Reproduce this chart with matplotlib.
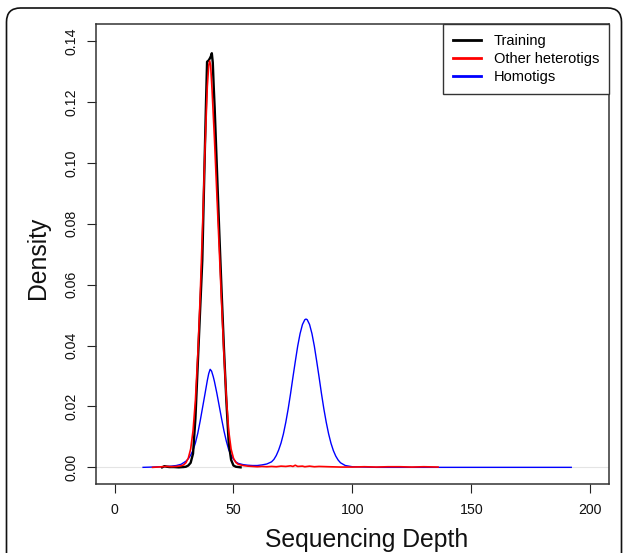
import matplotlib
matplotlib.use("Agg")
import matplotlib.pyplot as plt
from matplotlib.patches import FancyBboxPatch
from matplotlib.transforms import IdentityTransform
from matplotlib.lines import Line2D

plt.rcParams['font.family'] = ['Liberation Sans', 'DejaVu Sans']

# ---- data ----
train_x = [20, 21, 22, 23, 25, 27, 29, 30, 31, 32, 33, 34, 35, 36, 36.9, 38, 38.4, 38.9,
           39.5, 40, 40.5, 40.9, 41.3, 41.7, 42.1, 43, 44, 44.5, 45, 46, 47, 48, 49, 50,
           51, 52, 53]
train_y = [0.0000, 0.0004, 0.0002, 0.0001, 0.0001, 0.0000, 0.0001, 0.0002, 0.0006, 0.0015,
           0.0045, 0.0160, 0.0340, 0.0520, 0.0680, 0.1050, 0.1180, 0.1332,
           0.1336, 0.1342, 0.1350, 0.1360, 0.1330, 0.1250, 0.1180, 0.0990, 0.0780, 0.0680,
           0.0580, 0.0390, 0.0220, 0.0080, 0.0025, 0.0006, 0.0002, 0.0001, 0.0000]

other_x = [16, 18, 20, 22, 24, 26, 28, 29, 30, 31, 32, 33, 34, 35, 36, 37, 38, 39, 39.6,
           40, 40.4, 41, 42, 43, 44, 45, 46, 47, 48, 49, 50, 51, 52, 54, 56, 58, 60, 62,
           64, 66, 68, 70, 72, 74, 75, 76, 77, 79, 80, 82, 84, 86, 90, 95, 100, 105, 110,
           115, 120, 125, 130, 136]
other_y = [0.0000, 0.0001, 0.0002, 0.0003, 0.0002, 0.0003, 0.0005, 0.0008, 0.0015, 0.0030,
           0.0060, 0.0120, 0.0220, 0.0370, 0.0560, 0.0790, 0.1040, 0.1250, 0.1320,
           0.1335, 0.1320, 0.1240, 0.1080, 0.0900, 0.0720, 0.0540, 0.0370, 0.0230, 0.0120,
           0.0060, 0.0030, 0.0016, 0.0010, 0.0006, 0.0004, 0.0003, 0.0002, 0.0003,
           0.0002, 0.0003, 0.0002, 0.0004, 0.0003, 0.0005, 0.0003, 0.0007, 0.0003, 0.0004,
           0.0002, 0.0004, 0.0002, 0.0003, 0.0002, 0.0001, 0.0001, 0.0002, 0.0001,
           0.0002, 0.0002, 0.0001, 0.0002, 0.0001]

homo_x = [12, 16, 20, 24, 26, 28, 30, 31, 32, 33, 34, 35, 36, 37, 38, 39, 39.6, 40.2, 40.8,
          41.5, 42, 43, 44, 45, 46, 47, 48, 49, 50, 51, 52, 54, 56, 58, 60, 62, 64, 66,
          67, 68, 69, 70, 71, 72, 73, 74, 75, 76, 77, 78, 79, 80, 80.5, 81, 82, 83, 84,
          85, 86, 87, 88, 89, 90, 91, 92, 93, 94, 95, 97, 100, 105, 110, 150, 192]
homo_y = [0.0000, 0.0001, 0.0002, 0.0004, 0.0006, 0.0010, 0.0020, 0.0028, 0.0040, 0.0056,
          0.0080, 0.0112, 0.0152, 0.0196, 0.0240, 0.0285, 0.0308, 0.0322, 0.0316,
          0.0298, 0.0282, 0.0244, 0.0202, 0.0160, 0.0120, 0.0086, 0.0058, 0.0040, 0.0027,
          0.0018, 0.0013, 0.0009, 0.0007, 0.0006, 0.0006, 0.0008, 0.0011, 0.0018,
          0.0026, 0.0039, 0.0057, 0.0080, 0.0110, 0.0148, 0.0192, 0.0242, 0.0296, 0.0348,
          0.0398, 0.0439, 0.0469, 0.0485, 0.0487, 0.0485, 0.0469, 0.0439, 0.0398,
          0.0348, 0.0296, 0.0242, 0.0192, 0.0148, 0.0110, 0.0079, 0.0055, 0.0037, 0.0024,
          0.0015, 0.0006, 0.0002, 0.0001, 0.0000, 0.0000, 0.0000]

series_labels = ["Training", "Other heterotigs", "Homotigs"]
series_colors = ["#000000", "#ff0000", "#0000ff"]
x_ticks = [0, 50, 100, 150, 200]
y_ticks = [0.00, 0.02, 0.04, 0.06, 0.08, 0.10, 0.12, 0.14]
y_tick_labels = ["0.00", "0.02", "0.04", "0.06", "0.08", "0.10", "0.12", "0.14"]

# ---- figure ----
W, H = 624, 553
fig = plt.figure(figsize=(W / 100, H / 100), dpi=100)
ax = fig.add_axes([95.5 / W, (H - 484.4) / H, (609.3 - 95.5) / W, (484.4 - 24) / H])

ax.axhline(0, color="#e4e4e4", lw=0.8, zorder=1)
ax.plot(train_x, train_y, color=series_colors[0], lw=1.7, zorder=3)
ax.plot(other_x, other_y, color=series_colors[1], lw=1.2, zorder=4)
ax.plot(homo_x, homo_y, color=series_colors[2], lw=1.0, zorder=2)

ax.set_xlim(-8, 208)
ax.set_ylim(-0.0056, 0.1456)
ax.set_xticks(x_ticks)
ax.set_xticklabels([str(t) for t in x_ticks])
ax.set_yticks(y_ticks)
ax.set_yticklabels(y_tick_labels, rotation=90, va="center")

ax.tick_params(axis="both", direction="out", length=6.5, width=0.8, color="#222222",
               labelsize=10.2, labelcolor="#111111")
ax.tick_params(axis="x", pad=7)
ax.tick_params(axis="y", pad=6)
for s in ax.spines.values():
    s.set_color("#333333")
    s.set_linewidth(1.1)

ax.set_xlabel("Sequencing Depth", fontsize=17.8, color="#111111")
ax.xaxis.set_label_coords((367 - 95.5) / (609.3 - 95.5), (484.4 - 540) / (484.4 - 24))
ax.xaxis.label.set_va("center")
ax.set_ylabel("Density", fontsize=17.8, color="#111111")
ax.yaxis.set_label_coords((37.8 - 95.5) / (609.3 - 95.5), (484.4 - 258) / (484.4 - 24))
ax.yaxis.label.set_va("center")

handles = [Line2D([], [], color=c, lw=2.0) for c in series_colors]
leg = ax.legend(handles, series_labels, loc="upper right", bbox_to_anchor=(1, 1),
                borderaxespad=0, fontsize=10.5, handlelength=1.9, handletextpad=0.9,
                labelspacing=0.28, borderpad=0.68, fancybox=False, framealpha=1,
                edgecolor="#333333")
leg.get_frame().set_linewidth(1.0)

# rounded outer border
border = FancyBboxPatch((6.5, -30), 615, H - 8 + 30,
                        boxstyle="round,pad=0,rounding_size=14",
                        transform=IdentityTransform(), fill=False,
                        edgecolor="#111111", lw=1.2, figure=fig)
fig.patches.append(border)

fig.savefig("out.png", dpi=100)
